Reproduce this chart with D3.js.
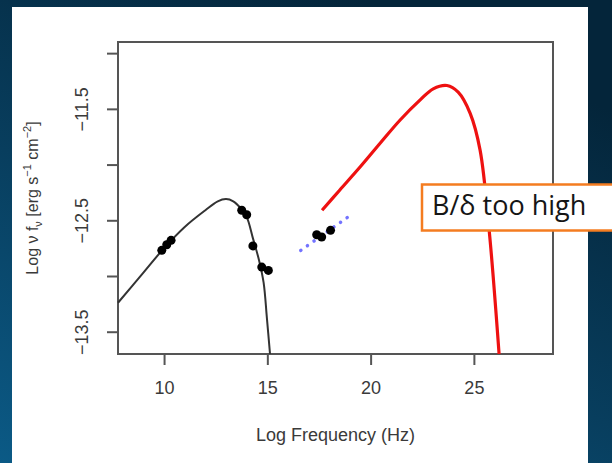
<!DOCTYPE html>
<html>
<head>
<meta charset="utf-8">
<script src="https://cdn.jsdelivr.net/npm/d3@7/dist/d3.min.js"></script>
<style>
html,body{margin:0;padding:0;background:#06304a;}
svg{display:block;}
</style>
</head>
<body>
<svg id="chart" width="612" height="463"></svg>
<script>
// ---- data ----
const xTicks = [10, 15, 20, 25];
const yTicks = [-11, -11.5, -12, -12.5, -13, -13.5];
const yTickLabels = ["", "\u221211.5", "", "\u221212.5", "", "\u221213.5"];
const xDomain = [7.77, 28.83];
const yDomain = [-13.70, -10.90];

// synchrotron model curve (black)
const syncCurve = [
  [7.77,-13.24],[9.0,-12.97],[10.0,-12.75],[11.0,-12.56],[12.0,-12.41],
  [12.6,-12.33],[13.0,-12.31],[13.35,-12.33],[13.7,-12.39],[14.0,-12.47],
  [14.3,-12.66],[14.6,-12.86],[14.82,-13.06],[14.98,-13.38],[15.13,-13.70]
];
// inverse-Compton model curve (red)
const icCurve = [
  [17.65,-12.41],[18.5,-12.23],[19.5,-12.02],[20.5,-11.80],[21.43,-11.60],
  [22.4,-11.42],[23.03,-11.32],[23.7,-11.29],[24.24,-11.35],[24.82,-11.54],
  [25.30,-11.87],[25.74,-12.59],[26.22,-13.70]
];
// X-ray power-law (blue dotted)
const xrayLine = [[16.62,-12.77],[18.91,-12.47]];
// observed points
const syncPoints = [
  [9.89,-12.77],[10.13,-12.72],[10.34,-12.68],
  [13.76,-12.41],[14.0,-12.45],[14.3,-12.73],[14.73,-12.92],[15.05,-12.95]
];
const xrayPoints = [[17.39,-12.63],[17.63,-12.65],[18.06,-12.59]];
const xLabel = "Log Frequency (Hz)";
const noteText = "B/\u03b4 too high";

// ---- drawing ----
const svg = d3.select("#chart");
const defs = svg.append("defs");
const grad = defs.append("linearGradient").attr("id","bg")
  .attr("x1","0").attr("y1","1").attr("x2","0.6").attr("y2","0");
grad.append("stop").attr("offset","0").attr("stop-color","#0b5a86");
grad.append("stop").attr("offset","0.5").attr("stop-color","#083e5e");
grad.append("stop").attr("offset","1").attr("stop-color","#04253a");
svg.append("rect").attr("width",612).attr("height",463).attr("fill","url(#bg)");
svg.append("rect").attr("x",12).attr("y",7).attr("width",576).attr("height",470).attr("fill","#ffffff");

const L = 118, R = 553, T = 42, B = 354;
const x = d3.scaleLinear().domain(xDomain).range([L, R]);
const y = d3.scaleLinear().domain(yDomain).range([B, T]);

const axisCol = "#555";
const font = "'Liberation Sans', Arial, sans-serif";

// box
svg.append("rect").attr("x",L).attr("y",T).attr("width",R-L).attr("height",B-T)
  .attr("fill","none").attr("stroke",axisCol).attr("stroke-width",2);

// x axis
const xAxis = d3.axisBottom(x).tickValues(xTicks).tickSize(11).tickPadding(16).tickFormat(d3.format("d"));
const gx = svg.append("g").attr("transform",`translate(0,${B})`).call(xAxis);
gx.select(".domain").remove();
gx.selectAll("line").attr("stroke",axisCol).attr("stroke-width",2);
gx.selectAll("text").attr("font-family",font).attr("font-size",18).attr("fill","#3a3a3a");

// y axis
const yAxis = d3.axisLeft(y).tickValues(yTicks).tickSize(11).tickPadding(0)
  .tickFormat((d,i)=>yTickLabels[i]);
const gy = svg.append("g").attr("transform",`translate(${L},0)`).call(yAxis);
gy.select(".domain").remove();
gy.selectAll("line").attr("stroke",axisCol).attr("stroke-width",2);
gy.selectAll("text").attr("font-family",font).attr("font-size",18).attr("fill","#3a3a3a")
  .attr("x",0).attr("dy",null).attr("text-anchor","middle")
  .attr("transform","translate(-35,0) rotate(-90)").attr("dominant-baseline","middle");

// x label
svg.append("text").attr("x",(L+R)/2).attr("y",441).attr("text-anchor","middle")
  .attr("font-family",font).attr("font-size",18).attr("fill","#3a3a3a").text(xLabel);

// y label
const yl = svg.append("text").attr("transform",`translate(38,${(T+B)/2}) rotate(-90)`)
  .attr("text-anchor","middle").attr("font-family",font).attr("font-size",16).attr("fill","#3a3a3a");
yl.append("tspan").text("Log \u03bd f");
yl.append("tspan").attr("font-size",11).attr("dy",4).text("\u03bd");
yl.append("tspan").attr("dy",-4).text("  [erg s");
yl.append("tspan").attr("font-size",11).attr("dy",-7).text("\u22121");
yl.append("tspan").attr("dy",7).text(" cm");
yl.append("tspan").attr("font-size",11).attr("dy",-7).text("\u22122");
yl.append("tspan").attr("dy",7).text("]");

// curves
const line = d3.line().x(d=>x(d[0])).y(d=>y(d[1])).curve(d3.curveCatmullRom.alpha(0.5));
svg.append("path").datum(syncCurve).attr("d",line).attr("fill","none")
  .attr("stroke","#333").attr("stroke-width",2);
svg.append("path").datum(icCurve).attr("d",line).attr("fill","none")
  .attr("stroke","#ee1111").attr("stroke-width",3.2);
svg.append("path").datum(xrayLine).attr("d",d3.line().x(d=>x(d[0])).y(d=>y(d[1])))
  .attr("fill","none").attr("stroke","#7373ff").attr("stroke-width",3.5)
  .attr("stroke-linecap","round").attr("stroke-dasharray","0.1 8");

// points
svg.append("g").selectAll("circle").data(syncPoints.concat(xrayPoints)).join("circle")
  .attr("cx",d=>x(d[0])).attr("cy",d=>y(d[1])).attr("r",4.5).attr("fill","#000");

// annotation box
svg.append("rect").attr("x",422).attr("y",184.5).attr("width",200).attr("height",46)
  .attr("fill","#ffffff").attr("stroke","#f47c20").attr("stroke-width",2.5);
svg.append("text").attr("x",432).attr("y",215).attr("font-family","'Open Sans', Lato, sans-serif")
  .attr("font-size",27).attr("fill","#151515").text(noteText);
</script>
</body>
</html>
